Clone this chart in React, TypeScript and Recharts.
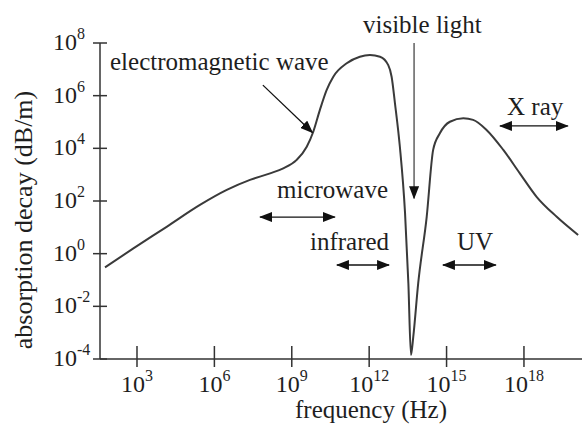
import { LineChart, Line, XAxis, YAxis, ReferenceLine } from 'recharts'

// log10 of frequency (Hz) and log10 of absorption decay (dB/m)
const logFreq = [
  1.76, 2.86, 4.15, 5.44, 6.48, 7.38, 8.16, 8.67, 9.19, 9.58, 9.83, 10.09, 10.35, 10.61, 11.13,
  11.64, 12.03, 12.42, 12.74, 12.87, 13.0, 13.19, 13.39, 13.52, 13.62, 13.71, 13.9, 14.23, 14.48,
  14.74, 15.13, 15.65, 16.03, 16.55, 17.2, 17.84, 18.49, 19.27, 20.1,
]
const logDecay = [
  -0.52, 0.2, 1.02, 1.85, 2.42, 2.8, 3.05, 3.24, 3.56, 4.06, 4.62, 5.46, 6.21, 6.72, 7.23,
  7.48, 7.54, 7.48, 7.16, 6.72, 5.71, 4.06, 1.55, -1.13, -3.85, -3.15, -1.13, 1.4, 3.94,
  4.57, 5.01, 5.14, 5.08, 4.7, 3.94, 3.05, 2.16, 1.4, 0.71,
]
const xTicks = [3, 6, 9, 12, 15, 18]
const yTicks = [-4, -2, 0, 2, 4, 6, 8]

// band arrows: [from, to] in log10 Hz, at a log10 decay height
const bands = [
  { name: 'microwave', from: 7.77, to: 10.67, at: 1.39 },
  { name: 'infrared', from: 10.75, to: 12.77, at: -0.43 },
  { name: 'UV', from: 14.86, to: 16.91, at: -0.43 },
  { name: 'X ray', from: 17.07, to: 19.7, at: 4.85 },
]

const data = logFreq.map((f, i) => ({ f, a: logDecay[i] }))

const FONT = '"Liberation Serif", "Times New Roman", serif'
const INK = '#1e1e1e'
const AXIS = '#333'

function XTick(props: any) {
  const { x, y, payload } = props
  return (
    <g>
      <line x1={x} x2={x} y1={y - 13} y2={y + 8} stroke={AXIS} strokeWidth={1.5} />
      <text x={x} y={y + 33} textAnchor="middle" fontFamily={FONT} fontSize={24} fill={INK}>
        10<tspan dy={-11} fontSize={16}>{payload.value}</tspan>
      </text>
    </g>
  )
}

function YTick(props: any) {
  const { x, y, payload } = props
  return (
    <g>
      <line x1={x - 7} x2={x + 7} y1={y} y2={y} stroke={AXIS} strokeWidth={1.5} />
      <text y={y + 7} fontFamily={FONT} fontSize={24} fill={INK}>
        <tspan x={x - 47}>10</tspan>
        <tspan dy={-11} fontSize={16}>{payload.value}</tspan>
      </text>
    </g>
  )
}

const arrow = (start: boolean, end: boolean, w = 1.3) => (p: any) => (
  <line
    x1={p.x1}
    y1={p.y1}
    x2={p.x2}
    y2={p.y2}
    stroke="#111"
    strokeWidth={w}
    markerStart={start ? 'url(#head)' : undefined}
    markerEnd={end ? 'url(#head)' : undefined}
  />
)

export default function App() {
  const txt = { fontFamily: FONT, fontSize: 25, fill: INK }
  return (
    <div style={{ position: 'absolute', left: 0, top: 0, width: 582, height: 426, background: '#fff' }}>
      <LineChart width={582} height={426} data={data} margin={{ top: 43, right: 0, bottom: 0, left: 0 }}>
        <XAxis
          dataKey="f"
          type="number"
          domain={[1.566, 20.25]}
          ticks={xTicks}
          allowDataOverflow
          height={67}
          tickSize={0}
          tickMargin={0}
          tickLine={false}
          axisLine={{ stroke: AXIS, strokeWidth: 1.5 }}
          tick={<XTick />}
          interval={0}
        />
        <YAxis
          type="number"
          domain={[-4, 8]}
          ticks={yTicks}
          width={100}
          tickSize={0}
          tickMargin={0}
          tickLine={false}
          axisLine={{ stroke: AXIS, strokeWidth: 1.5 }}
          tick={<YTick />}
          interval={0}
        />
        <Line
          dataKey="a"
          type="monotone"
          stroke="#3a3a3a"
          strokeWidth={2}
          dot={false}
          isAnimationActive={false}
        />
        <ReferenceLine
          segment={[{ x: 7.88, y: 6.4 }, { x: 9.8, y: 4.6 }]}
          ifOverflow="visible"
          shape={arrow(false, true, 1.3)}
        />
        <ReferenceLine
          segment={[{ x: 13.74, y: 8.0 }, { x: 13.74, y: 2.1 }]}
          ifOverflow="visible"
          shape={arrow(false, true, 1)}
        />
        {bands.map((b) => (
          <ReferenceLine
            key={b.name}
            segment={[{ x: b.from, y: b.at }, { x: b.to, y: b.at }]}
            ifOverflow="visible"
            shape={arrow(true, true, 1.3)}
          />
        ))}
      </LineChart>
      <svg
        width={582}
        height={426}
        style={{ position: 'absolute', left: 0, top: 0, pointerEvents: 'none' }}
      >
        <defs>
          <marker
            id="head"
            viewBox="0 0 13 10"
            refX={12}
            refY={5}
            markerWidth={13}
            markerHeight={10}
            markerUnits="userSpaceOnUse"
            orient="auto-start-reverse"
          >
            <path d="M0,0 L13,5 L0,10 z" fill="#111" />
          </marker>
        </defs>
        <text x={110} y={70} {...txt}>electromagnetic wave</text>
        <text x={363} y={33} {...txt}>visible light</text>
        <text x={277} y={198} {...txt}>microwave</text>
        <text x={310} y={250} {...txt}>infrared</text>
        <text x={457} y={250} {...txt}>UV</text>
        <text x={507} y={115} {...txt}>X ray</text>
        <text x={371} y={418} textAnchor="middle" {...txt}>frequency (Hz)</text>
        <text
          x={32}
          y={220}
          textAnchor="middle"
          transform="rotate(-90 32 220)"
          {...txt}
          fontSize={26}
        >
          absorption decay (dB/m)
        </text>
      </svg>
    </div>
  )
}
